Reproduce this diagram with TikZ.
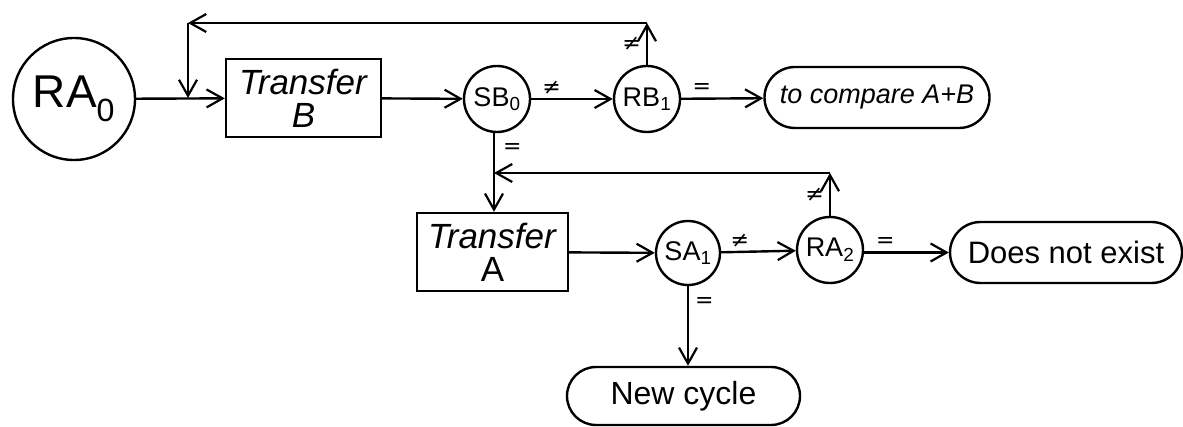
\documentclass[tikz,border=0pt]{standalone}
\usepackage{fontspec}
\setmainfont{Liberation Sans}
\newfontfamily\symfont{DejaVu Sans}
\usetikzlibrary{arrows.meta,shapes.misc}

\tikzset{
  ink/.style={line width=2.4pt},
  flow/.style={ink, -{Straight Barb[length=16pt,width=18pt,line width=2.2pt]}},
  bigstate/.style={circle, ink, draw, inner sep=0pt, minimum size=122pt,
    font=\fontsize{46}{48}\selectfont},
  state/.style={circle, ink, draw, inner sep=0pt, minimum size=66pt,
    font=\fontsize{27}{28}\selectfont},
  action/.style={rectangle, ink, draw, inner sep=0pt, align=center,
    font=\fontsize{35}{33}\selectfont},
  terminal/.style={rounded rectangle, ink, draw, inner sep=0pt, minimum height=61pt,
    font=\fontsize{31}{32}\selectfont},
  tag/.style={inner sep=0pt, font=\symfont\fontsize{22}{24}\selectfont}
}

\begin{document}
\begin{tikzpicture}[x=1pt, y=-1pt]
  \useasboundingbox (0,0) rectangle (1183,427);

  % states, actions and end points
  \node[bigstate] (ra0) at (74,99) {RA\textsubscript{0}};
  \node[action, minimum width=155pt, minimum height=78pt] (tb) at (303.5,98)
    {\textit{Transfer}\\\textit{B}};
  \node[state] (sb0) at (497,99) {SB\textsubscript{0}};
  \node[state] (rb1) at (647,99) {RB\textsubscript{1}};
  \node[terminal, minimum width=225pt, font=\itshape\fontsize{27}{28}\selectfont]
    (cmp) at (877,97.5) {to compare A+B};

  \node[action, minimum width=151pt, minimum height=78pt] (ta) at (492.5,252)
    {\textit{Transfer}\\A};
  \node[state, minimum size=64pt] (sa1) at (688,253) {SA\textsubscript{1}};
  \node[state] (ra2) at (830,250) {RA\textsubscript{2}};
  \node[terminal, minimum width=232pt] (dne) at (1066,252.5) {Does not exist};
  \node[terminal, minimum width=233pt, minimum height=58pt,
    font=\fontsize{32}{34}\selectfont] (nc) at (683.5,396) {New cycle};

  % corner points of the two return loops
  \coordinate (j1) at (188,98);
  \coordinate (c1l) at (188,23);
  \coordinate (c1r) at (rb1.north |- c1l);
  \coordinate (j2) at (494,173);
  \coordinate (c2r) at (ra2.north |- j2);

  % main flow
  \draw[flow] (ra0) -- (tb);
  \draw[flow] (tb) -- (sb0);
  \draw[flow] (sb0) -- node[tag, above=3pt, pos=0.25] {≠} (rb1);
  \draw[flow] (rb1) -- node[tag, above=4pt, pos=0.25] {=} (cmp);
  \draw[flow] (sb0.south -| j2) -- node[tag, right=8pt, pos=0.2] {=} (ta.north -| j2);
  \draw[flow] (ta) -- (sa1);
  \draw[flow] (sa1) -- node[tag, above=3pt, pos=0.25] {≠} (ra2);
  \draw[flow] (ra2.east |- dne) -- node[tag, above=4pt, pos=0.25] {=} (dne);
  \draw[flow] (sa1) -- node[tag, right=6pt, pos=0.2] {=} (nc.north -| sa1);

  % return loop from RB1 back to the input of Transfer B
  \draw[flow] (rb1.north) -- node[tag, left=5pt] {≠} (c1r);
  \draw[flow] (c1r) -- (c1l);
  \draw[flow] (c1l) -- (j1);

  % return loop from RA2 back to the input of Transfer A
  \draw[flow] (ra2.north) -- node[tag, left=5pt] {≠} (c2r);
  \draw[flow] (c2r) -- (j2);
\end{tikzpicture}
\end{document}
